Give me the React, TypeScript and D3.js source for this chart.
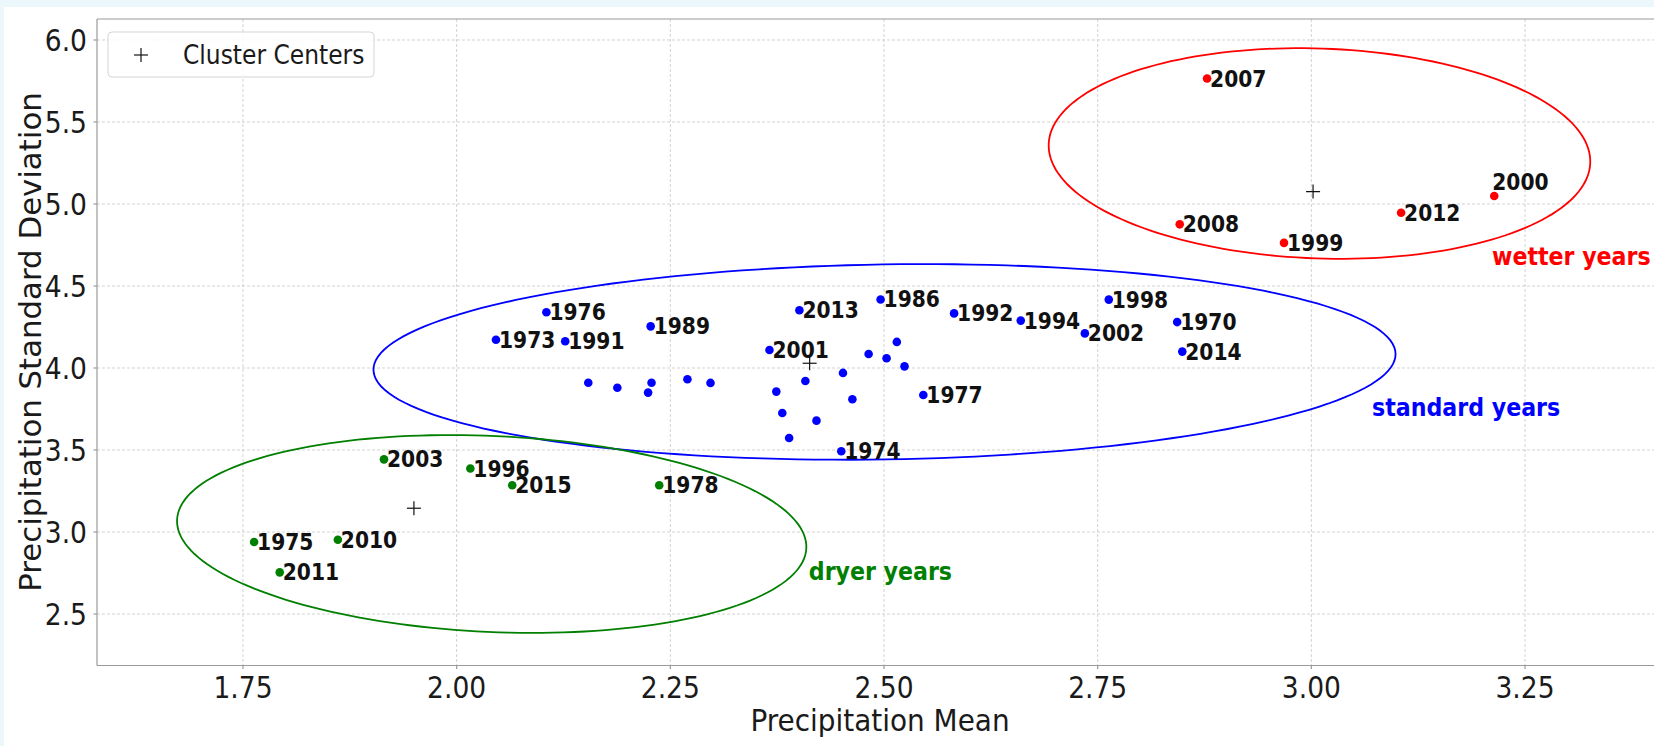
import * as d3 from 'd3';

const W = 1654;
const H = 746;

// wetter years cluster
const wetYears = ['2007', '2008', '1999', '2012', '2000'];
const wetMean = [2.878, 2.846, 2.968, 3.105, 3.214];
const wetStd = [5.765, 4.876, 4.763, 4.947, 5.049];

// standard years cluster (labelled)
const stdYears = ['1976', '1973', '1991', '1989', '2013', '2001', '1986', '1992', '1994', '2002', '1998', '1970', '2014', '1977', '1974'];
const stdMean = [2.105, 2.046, 2.127, 2.227, 2.401, 2.366, 2.496, 2.582, 2.660, 2.735, 2.763, 2.843, 2.849, 2.546, 2.450];
const stdStd = [4.340, 4.172, 4.163, 4.254, 4.352, 4.110, 4.418, 4.333, 4.289, 4.211, 4.417, 4.280, 4.100, 3.835, 3.492];

// standard years cluster (unlabelled)
const stdPlainMean = [2.154, 2.188, 2.228, 2.224, 2.270, 2.297, 2.374, 2.381, 2.389, 2.408, 2.421, 2.452, 2.463, 2.482, 2.503, 2.515, 2.524];
const stdPlainStd = [3.910, 3.880, 3.910, 3.850, 3.931, 3.909, 3.856, 3.726, 3.573, 3.921, 3.679, 3.970, 3.809, 4.085, 4.059, 4.159, 4.010];

// dryer years cluster
const dryYears = ['2003', '1996', '2015', '1978', '1975', '2010', '2011'];
const dryMean = [1.915, 2.016, 2.065, 2.237, 1.763, 1.861, 1.793];
const dryStd = [3.443, 3.387, 3.285, 3.285, 2.939, 2.953, 2.754];

// cluster centers
const centerMean = [3.002, 2.413, 1.950];
const centerStd = [5.076, 4.029, 3.145];

// ellipses: center, full width/height (data units), tilt on screen (deg)
const ellipseNames = ['wet', 'standard', 'dry'];
const ellipseCx = [3.0095, 2.5006, 2.041];
const ellipseCy = [5.308, 4.037, 2.988];
const ellipseW = [0.634, 1.196, 0.737];
const ellipseH = [1.28, 1.189, 1.195];
const ellipseAngle = [2.0, -0.9, 2.6];
const ellipseColor = ['#ff0000', '#0000ff', '#007f00'];

const groupLabels = ['wetter years', 'standard years', 'dryer years'];
const groupLabelX = [3.2113, 3.071, 2.412];
const groupLabelY = [4.628, 3.707, 2.707];

const aboveLabels = ['2000'];

const xTicks = [1.75, 2.0, 2.25, 2.5, 2.75, 3.0, 3.25];
const yTicks = [2.5, 3.0, 3.5, 4.0, 4.5, 5.0, 5.5, 6.0];

const plotLeft = 97;
const plotTop = 19;
const plotRight = 1654;
const plotBottom = 665.5;

const x = d3.scaleLinear().domain([1.5792, 3.4009]).range([plotLeft, plotRight]);
const y = d3.scaleLinear().domain([6.128, 2.186]).range([plotTop, plotBottom]);

const FONT = 'DejaVu Sans';

function CText({ x, y, size, weight = 'normal', fill = '#1a1a1a', anchor = 'start', children }: any) {
  return (
    <text
      transform={`translate(${x},${y}) scale(0.9,1)`}
      fontFamily={FONT}
      fontSize={size}
      fontWeight={weight}
      fill={fill}
      textAnchor={anchor}
    >
      {children}
    </text>
  );
}

function ellipsePath(i: number) {
  const px = x(ellipseCx[i]);
  const py = y(ellipseCy[i]);
  const a = x(ellipseCx[i] + ellipseW[i] / 2) - px;
  const b = py - y(ellipseCy[i] + ellipseH[i] / 2);
  const th = (ellipseAngle[i] * Math.PI) / 180;
  const pts = d3.range(0, 360, 2).map(d => {
    const t = (d * Math.PI) / 180;
    const u = a * Math.cos(t);
    const v = b * Math.sin(t);
    return [px + u * Math.cos(th) - v * Math.sin(th), py + u * Math.sin(th) + v * Math.cos(th)] as [number, number];
  });
  return d3.line()(pts) + 'Z';
}

function YearPoints({ years, means, stds, color }: { years: string[]; means: number[]; stds: number[]; color: string }) {
  return (
    <g>
      {means.map((m, i) => (
        <circle key={'c' + i} cx={x(m)} cy={y(stds[i])} r={4.3} fill={color} />
      ))}
      {years.map((yr, i) => {
        const above = aboveLabels.includes(yr);
        return (
          <CText
            key={'t' + yr}
            x={above ? x(means[i]) - 2 : x(means[i]) + 3}
            y={above ? y(stds[i]) - 6 : y(stds[i]) + 8}
            size={22.5}
            weight="bold"
            fill="#111"
          >
            {yr}
          </CText>
        );
      })}
    </g>
  );
}

export default function App() {
  return (
    <div style={{ position: 'fixed', left: 0, top: 0 }}>
      <svg width={W} height={H} style={{ display: 'block' }}>
        <defs>
          <clipPath id="plotClip">
            <rect x={plotLeft} y={plotTop} width={plotRight - plotLeft} height={plotBottom - plotTop} />
          </clipPath>
        </defs>
        <rect x={0} y={0} width={W} height={H} fill="#ecf7fc" />
        <rect x={4} y={7} width={W - 4} height={H - 7} fill="#ffffff" />

        {/* grid */}
        <g stroke="#d2d2d2" strokeWidth={1} strokeDasharray="3,2">
          {xTicks.map(t => (
            <line key={'gx' + t} x1={x(t)} x2={x(t)} y1={plotTop} y2={plotBottom} />
          ))}
          {yTicks.map(t => (
            <line key={'gy' + t} x1={plotLeft} x2={plotRight} y1={y(t)} y2={y(t)} />
          ))}
        </g>

        {/* spines */}
        <g stroke="#9a9a9a" strokeWidth={1.2}>
          <line x1={plotLeft} x2={plotLeft} y1={plotTop} y2={plotBottom} />
          <line x1={plotLeft} x2={plotRight} y1={plotBottom} y2={plotBottom} />
          <line x1={plotLeft} x2={plotRight} y1={plotTop} y2={plotTop} />
          {xTicks.map(t => (
            <line key={'tx' + t} x1={x(t)} x2={x(t)} y1={plotBottom} y2={plotBottom + 3.5} />
          ))}
          {yTicks.map(t => (
            <line key={'ty' + t} x1={plotLeft - 3.5} x2={plotLeft} y1={y(t)} y2={y(t)} />
          ))}
        </g>

        {/* tick labels */}
        {xTicks.map(t => (
          <CText key={'lx' + t} x={x(t)} y={698} size={29.5} anchor="middle">
            {d3.format('.2f')(t)}
          </CText>
        ))}
        {yTicks.map(t => (
          <CText key={'ly' + t} x={87} y={y(t) + 10.7} size={29.5} anchor="end">
            {d3.format('.1f')(t)}
          </CText>
        ))}

        {/* axis labels */}
        <CText x={880} y={731} size={31} anchor="middle">Precipitation Mean</CText>
        <text
          transform={`translate(41,342) rotate(-90)`}
          fontFamily={FONT}
          fontSize={30.8}
          fill="#1a1a1a"
          textAnchor="middle"
        >
          Precipitation Standard Deviation
        </text>

        <g clipPath="url(#plotClip)">
          {ellipseNames.map((n, i) => (
            <path key={n} d={ellipsePath(i)} fill="none" stroke={ellipseColor[i]} strokeWidth={1.8} />
          ))}

          <g>
            {stdPlainMean.map((m, i) => (
              <circle key={'p' + i} cx={x(m)} cy={y(stdPlainStd[i])} r={4.3} fill="#0000ff" />
            ))}
          </g>
          <YearPoints years={stdYears} means={stdMean} stds={stdStd} color="#0000ff" />
          <YearPoints years={dryYears} means={dryMean} stds={dryStd} color="#007f00" />
          <YearPoints years={wetYears} means={wetMean} stds={wetStd} color="#ff0000" />

          {centerMean.map((m, i) => (
            <g key={'ctr' + i} stroke="#111" strokeWidth={1.2}>
              <line x1={x(m) - 7} x2={x(m) + 7} y1={y(centerStd[i])} y2={y(centerStd[i])} />
              <line x1={x(m)} x2={x(m)} y1={y(centerStd[i]) - 7} y2={y(centerStd[i]) + 7} />
            </g>
          ))}

          {groupLabels.map((g, i) => (
            <CText key={g} x={x(groupLabelX[i])} y={y(groupLabelY[i])} size={24.6} weight="bold" fill={ellipseColor[i]}>
              {g}
            </CText>
          ))}
        </g>

        {/* legend */}
        <rect x={108} y={32} width={266} height={45} rx={4} fill="#ffffff" fillOpacity={0.85} stroke="#d5d5d5" strokeWidth={1} />
        <g stroke="#111" strokeWidth={1.2}>
          <line x1={134} x2={148} y1={55} y2={55} />
          <line x1={141} x2={141} y1={48} y2={62} />
        </g>
        <CText x={183} y={64} size={26}>Cluster Centers</CText>
      </svg>
    </div>
  );
}
